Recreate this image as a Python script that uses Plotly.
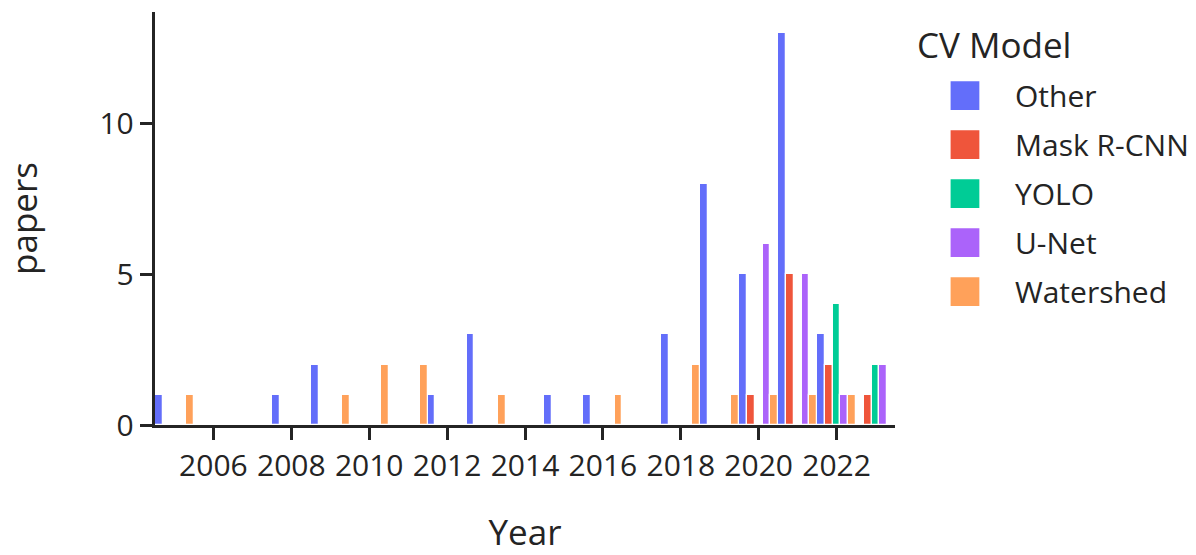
import plotly.graph_objects as go

# Papers per year for each computer-vision model family
other_years = [2005, 2008, 2009, 2012, 2013, 2015, 2016, 2018, 2019, 2020, 2021, 2022]
other_papers = [1, 1, 2, 1, 3, 1, 1, 3, 8, 5, 13, 3]

mask_rcnn_years = [2020, 2021, 2022, 2023]
mask_rcnn_papers = [1, 5, 2, 1]

yolo_years = [2022, 2023]
yolo_papers = [4, 2]

unet_years = [2020, 2021, 2022, 2023]
unet_papers = [6, 5, 1, 2]

watershed_years = [2005, 2009, 2010, 2011, 2013, 2016, 2018, 2019, 2020, 2021, 2022]
watershed_papers = [1, 1, 2, 2, 1, 1, 2, 1, 1, 1, 1]

series = [
    ("Other", other_years, other_papers, "#636efa"),
    ("Mask R-CNN", mask_rcnn_years, mask_rcnn_papers, "#EF553B"),
    ("YOLO", yolo_years, yolo_papers, "#00cc96"),
    ("U-Net", unet_years, unet_papers, "#ab63fa"),
    ("Watershed", watershed_years, watershed_papers, "#FFA15A"),
]

S = 2.5  # drawing scale for fonts and strokes
ink = "rgb(36,36,36)"

fig = go.Figure()
for name, xs, ys, color in series:
    fig.add_trace(go.Bar(
        name=name, x=xs, y=ys,
        marker=dict(color=color, line=dict(color="white", width=0.5 * S)),
        offsetgroup=name, legendgroup=name,
    ))

axis_common = dict(
    showline=True, linecolor=ink, linewidth=1 * S,
    ticks="outside", ticklen=5 * S, tickwidth=1 * S, tickcolor=ink,
    showgrid=False, zeroline=False,
    tickfont=dict(size=12 * S, color=ink),
)

fig.update_layout(
    width=1196, height=555,
    barmode="group", bargap=0, bargroupgap=0,
    paper_bgcolor="white", plot_bgcolor="white",
    font=dict(family="Open Sans, verdana, arial, sans-serif", size=12 * S, color=ink),
    margin=dict(l=155, r=301, t=12, b=130, autoexpand=False),
    xaxis=dict(title=dict(text="Year", font=dict(size=14 * S, color=ink), standoff=42),
               **axis_common),
    yaxis=dict(title=dict(text="papers", font=dict(size=14 * S, color=ink), standoff=52),
               dtick=5, **axis_common),
    legend=dict(
        title=dict(text="CV Model", font=dict(size=14 * S, color=ink)),
        x=1.027, xanchor="left", y=1, yanchor="top",
        itemwidth=90, tracegroupgap=7,
        font=dict(size=12 * S, color=ink),
    ),
    showlegend=True,
)

# enlarge the legend swatches and give the item rows a little more room under the title
post = """
var gd = document.getElementById('{plot_id}');
function styleLegend() {
  gd.querySelectorAll('.legend .legendpoints path').forEach(function (p) {
    if (p.getAttribute('d') === 'M6,6H-6V-6H6Z') {
      p.setAttribute('d', 'M15,15H-15V-15H15Z');
      p.style.strokeWidth = '1.25px';
    }
  });
  gd.querySelectorAll('.legend .traces').forEach(function (t) {
    var tr = t.getAttribute('transform') || '';
    if (t.getAttribute('data-moved') === tr) return;
    var m = /translate\\(([-\\d.e]+),\\s*([-\\d.e]+)\\)/.exec(tr);
    if (m) {
      var nt = 'translate(' + m[1] + ',' + (parseFloat(m[2]) + 12) + ')';
      t.setAttribute('transform', nt);
      t.setAttribute('data-moved', nt);
    }
  });
}
styleLegend();
gd.on('plotly_afterplot', styleLegend);
"""

fig.write_html("out.html", post_script=post)
